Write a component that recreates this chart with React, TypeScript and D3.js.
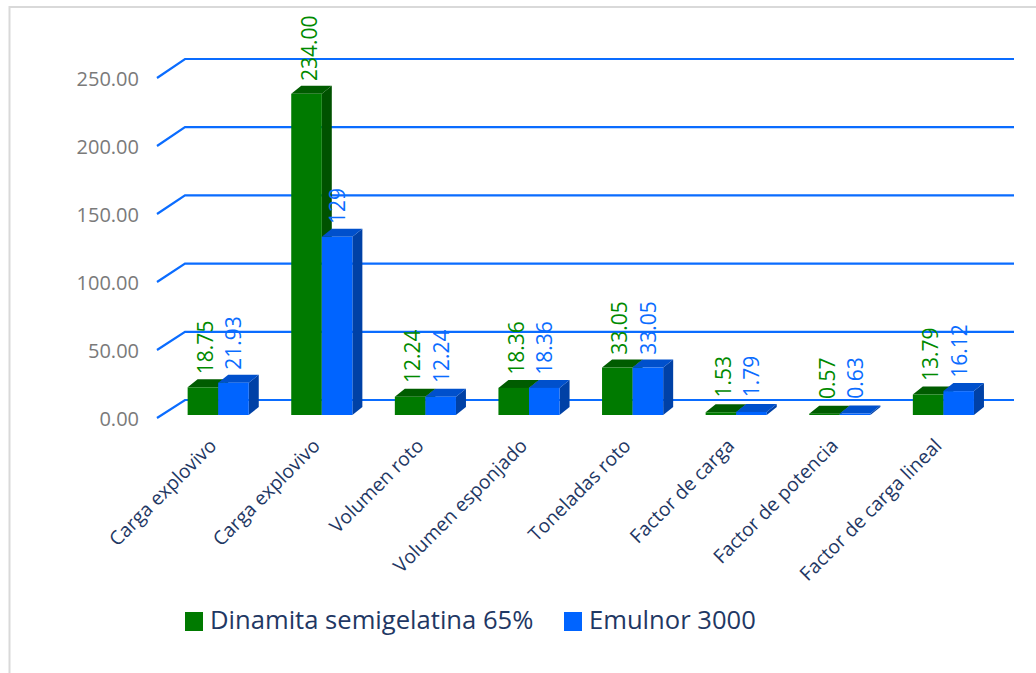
import React from "react";
import * as d3 from "d3";

const categories = [
  "Carga explovivo",
  "Carga explovivo",
  "Volumen roto",
  "Volumen esponjado",
  "Toneladas roto",
  "Factor de carga",
  "Factor de potencia",
  "Factor de carga lineal",
];
const dinamita = [18.75, 234.0, 12.24, 18.36, 33.05, 1.53, 0.57, 13.79];
const emulnor = [21.93, 129, 12.24, 18.36, 33.05, 1.79, 0.63, 16.12];
const dinamitaLabels = ["18.75", "234.00", "12.24", "18.36", "33.05", "1.53", "0.57", "13.79"];
const emulnorLabels = ["21.93", "129", "12.24", "18.36", "33.05", "1.79", "0.63", "16.12"];
const yTicks = [0, 50, 100, 150, 200, 250];
const seriesNames = ["Dinamita semigelatina 65%", "Emulnor 3000"];

const FONT = "'Open Sans', 'Noto Sans', sans-serif";
const depthX = 10;
const depthY = 8;

// Bar fronts: short bars sit lower in the 3D floor, so the scale bends near zero.
const barY = d3.scaleLinear().domain([0, 21.93, 250]).range([414.5, 382.7, 72]);
// Value labels follow the straight projection of the plot.
const labelY = d3.scaleLinear().domain([0, 250]).range([412.7, 72.2]);
const band = d3.scaleBand<number>().domain(d3.range(8)).range([166.4, 995.2]).paddingInner(0.41).paddingOuter(0.205);
const inner = d3.scaleBand<number>().domain([0, 1]).range([0, band.bandwidth()]);

const wall = d3.scaleLinear().domain([0, 250]).range([400, 59]);
const front = d3.scaleLinear().domain([0, 250]).range([418, 78]);

const palette = [
  { front: "#007A00", top: "#005C00", side: "#005200", text: "#008A00" },
  { front: "#0064FF", top: "#0050CC", side: "#0041A6", text: "#0A6CFF" },
];

function Bar({ x, w, v, c }: { x: number; w: number; v: number; c: (typeof palette)[number] }) {
  const base = 415;
  const top = barY(v);
  const pts = (p: number[][]) => p.map((q) => q.join(",")).join(" ");
  return (
    <g>
      <polygon points={pts([[x + w, base], [x + w + depthX, base - depthY], [x + w + depthX, top - depthY], [x + w, top]])} fill={c.side} />
      <polygon points={pts([[x, top], [x + depthX, top - depthY], [x + w + depthX, top - depthY], [x + w, top]])} fill={c.top} />
      <rect x={x} y={top} width={w} height={base - top} fill={c.front} />
    </g>
  );
}

export default function App() {
  return (
    <svg width={1036} height={673} style={{ position: "absolute", left: 0, top: 0, background: "#fff" }}>
      <path d="M9.5 673V7H1036" fill="none" stroke="#d9d9d9" strokeWidth={2} />
      {yTicks.map((t) => (
        <g key={t}>
          <polyline
            points={`157,${front(t)} 185,${wall(t)} 1014,${wall(t)}`}
            fill="none"
            stroke="#0A6CFF"
            strokeWidth={2.2}
          />
          <text x={139} y={front(t) + 7.5} textAnchor="end" fontFamily={FONT} fontSize={20} fill="#7a7a7a">
            {t.toFixed(2)}
          </text>
        </g>
      ))}
      {categories.map((name, i) => {
        const x0 = band(i)!;
        const w = inner.bandwidth();
        const lx = x0 + w * 0.5;
        const rx = x0 + w * 1.5;
        return (
          <g key={i}>
            <Bar x={x0} w={w} v={dinamita[i]} c={palette[0]} />
            <Bar x={x0 + w} w={w} v={emulnor[i]} c={palette[1]} />
            <text
              transform={`translate(${lx + 10},${labelY(dinamita[i]) - 13}) rotate(-90)`}
              fontFamily={FONT}
              fontSize={21}
              fill={palette[0].text}
            >
              {dinamitaLabels[i]}
            </text>
            <text
              transform={`translate(${rx + 8},${labelY(emulnor[i]) - 13}) rotate(-90)`}
              fontFamily={FONT}
              fontSize={21}
              fill={palette[1].text}
            >
              {emulnorLabels[i]}
            </text>
            <text
              transform={`translate(${x0 + 30},${447}) rotate(-45)`}
              textAnchor="end"
              fontFamily={FONT}
              fontSize={19.3}
              fill="#1F3864"
            >
              {name}
            </text>
          </g>
        );
      })}
      <rect x={185} y={612} width={18} height={19} fill={palette[0].front} />
      <text x={210} y={629} fontFamily={FONT} fontSize={25.6} fill="#1F3864">
        {seriesNames[0]}
      </text>
      <rect x={564} y={612} width={18} height={19} fill={palette[1].front} />
      <text x={589} y={629} fontFamily={FONT} fontSize={25.6} fill="#1F3864">
        {seriesNames[1]}
      </text>
    </svg>
  );
}
